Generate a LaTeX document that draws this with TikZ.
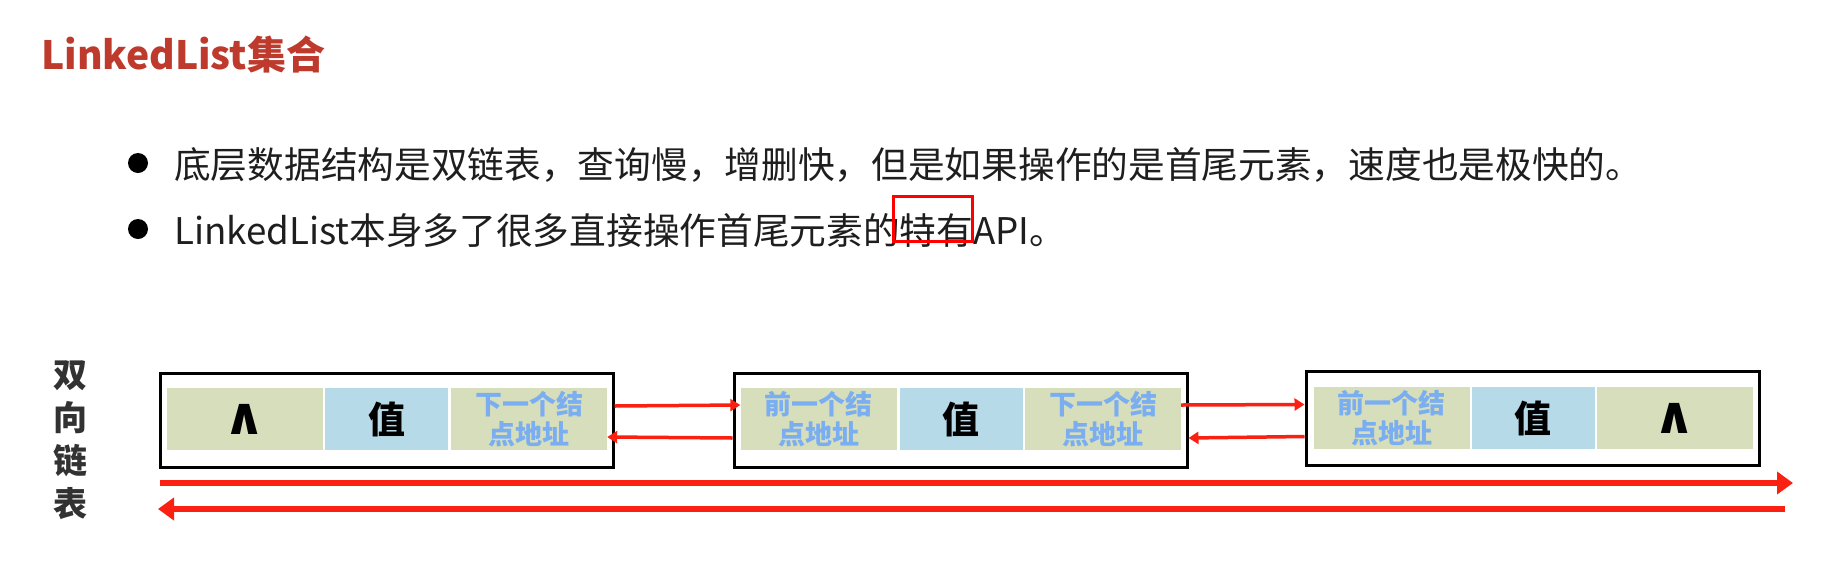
\documentclass[tikz,border=0pt]{standalone}
\usepackage{fontspec}
\setmainfont{Noto Sans CJK SC}
\newfontfamily\symfont{DejaVu Sans}
\usetikzlibrary{arrows.meta}
\definecolor{titlered}{RGB}{190,58,44}
\definecolor{cellgreen}{RGB}{215,222,187}
\definecolor{cellblue}{RGB}{182,218,232}
\definecolor{addrblue}{RGB}{122,174,240}
\definecolor{arrred}{RGB}{250,32,18}
\definecolor{txtdark}{RGB}{30,30,30}
\definecolor{lblgray}{RGB}{50,50,50}
\begin{document}
\begin{tikzpicture}[x=1pt,y=-1pt,
  box/.style={draw=black, line width=3pt, minimum width=453pt, minimum height=94pt, inner sep=0},
  gcell/.style={fill=cellgreen, minimum width=156pt, minimum height=62pt, inner sep=0, align=center},
  bcell/.style={fill=cellblue, minimum width=123pt, minimum height=62pt, inner sep=0,
     font=\bfseries\fontsize{37}{37}\selectfont, text=black},
  addr/.style={font=\bfseries\fontsize{27}{30}\selectfont, text=addrblue},
  nul/.style={font=\symfont\bfseries\fontsize{52}{52}\selectfont, text=black},
  inarr/.style={draw=arrred, line width=3.5pt, -{Triangle[length=10pt,width=12pt]}},
  longarr/.style={draw=arrred, line width=6pt, -{Triangle[length=16pt,width=22pt]}},
  bullet/.style={circle, fill=black, minimum size=20pt, inner sep=0},
  btext/.style={anchor=west, inner sep=0, font=\fontsize{36.7}{37}\selectfont, text=txtdark}
]
\useasboundingbox[fill=white] (0,0) rectangle (1826,582);

\node[anchor=west, inner sep=0, font=\bfseries\fontsize{39}{39}\selectfont, text=titlered] (title) at (41,55) {LinkedList集合};

\node[bullet] (bu1) at (138,163) {};
\node[btext] (t1) at (174,165) {底层数据结构是双链表，查询慢，增删快，但是如果操作的是首尾元素，速度也是极快的。};
\node[bullet] (bu2) at (138,229) {};
\node[btext] (t2) at (174,231) {LinkedList本身多了很多直接操作首尾元素的特有API。};
\node[draw=red, line width=2.5pt, minimum width=79pt, minimum height=45pt, inner sep=0] (hl) at (933,219) {};

\node[align=center, font=\bfseries\fontsize{34}{43}\selectfont, text=lblgray, inner sep=0] (lbl) at (70,440) {双\\向\\链\\表};

% node 1
\node[box] (n1) at (386.5,420) {};
\node[gcell, nul] (n1a) at (245,419) {∧};
\node[bcell] (n1b) at (386.5,419) {值};
\node[gcell, addr] (n1c) at (529,419) {下一个结\\点地址};
% node 2
\node[box] (n2) at (960.5,420) {};
\node[gcell, addr] (n2a) at (818.5,419) {前一个结\\点地址};
\node[bcell] (n2b) at (961,419) {值};
\node[gcell, addr] (n2c) at (1103,419) {下一个结\\点地址};
% node 3
\node[box] (n3) at (1532.5,418.5) {};
\node[gcell, addr] (n3a) at (1391.5,418) {前一个结\\点地址};
\node[bcell] (n3b) at (1533,418) {值};
\node[gcell, nul] (n3c) at (1675,418) {∧};

% links
\draw[inarr] ([yshift=14pt]n1.east) -- ([yshift=14pt]n2a.west);
\draw[inarr] ([yshift=-18pt]n2.west) -- ([yshift=-18pt]n1c.east);
\draw[inarr] ([yshift=14pt]n2c.east) -- ([yshift=14pt]n3.west);
\draw[inarr] ([yshift=-18pt]n3.west) -- ([yshift=-18pt]n2.east);

\coordinate (f1) at (160,483);
\coordinate (f2) at (1793,483);
\coordinate (r1) at (1785,509);
\coordinate (r2) at (158,509);
\draw[longarr] (f1) -- (f2);
\draw[longarr] (r1) -- (r2);
\end{tikzpicture}
\end{document}
